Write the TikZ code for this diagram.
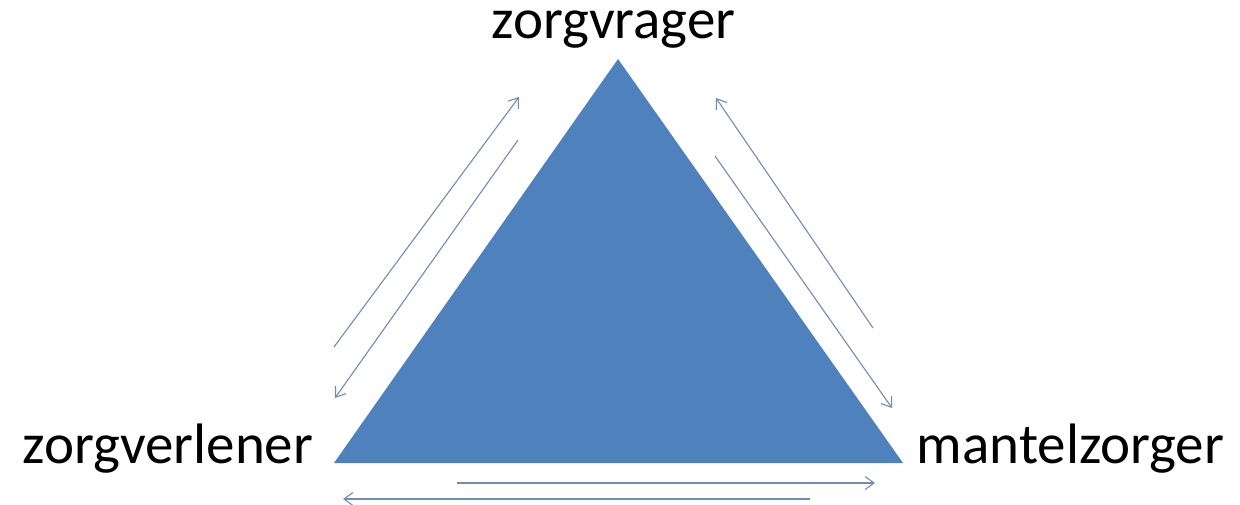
\documentclass[tikz,border=0pt]{standalone}
\usepackage{fontspec}
\setmainfont{Carlito}
\usetikzlibrary{arrows.meta}
\definecolor{triblue}{HTML}{4F81BD}
\definecolor{arrblue}{HTML}{6F8DB8}
\tikzset{
  lbl/.style={anchor=base, inner sep=0pt, text height=0.55em, text depth=0.2em, font=\fontsize{57}{60}\selectfont, text=black},
  flow/.style={draw=arrblue, line width=1.1pt, -{Straight Barb[length=9pt,width=13pt,line width=1.1pt]}},
  tri/.style={fill=triblue, draw=none}
}
\begin{document}
\begin{tikzpicture}[x=1pt,y=-1pt]
\useasboundingbox[fill=white] (0,0) rectangle (1240,504);
% triangle corners
\coordinate (top) at (618,59);
\coordinate (bl) at (334,463);
\coordinate (br) at (903,463);
\fill[tri] (top) -- (br) -- (bl) -- cycle;
% labels
\node[lbl] (vrager) at (613.5,38) {zorgvrager};
\node[lbl] (verlener) at (168,463) {zorgverlener};
\node[lbl] (mantel) at (1070.5,463) {mantelzorger};
% arrow end points
\coordinate (l1a) at (334,347); \coordinate (l1b) at (519,97);
\coordinate (l2a) at (518,140); \coordinate (l2b) at (335,398);
\coordinate (r1a) at (873,328); \coordinate (r1b) at (716,98);
\coordinate (r2a) at (715,156); \coordinate (r2b) at (892,408);
\coordinate (b1a) at (457,483); \coordinate (b1b) at (875,483);
\coordinate (b2a) at (810,499); \coordinate (b2b) at (343,499);
\draw[flow] (l1a) -- (l1b);
\draw[flow] (l2a) -- (l2b);
\draw[flow] (r1a) -- (r1b);
\draw[flow] (r2a) -- (r2b);
\draw[flow] (b1a) -- (b1b);
\draw[flow] (b2a) -- (b2b);
\end{tikzpicture}
\end{document}
